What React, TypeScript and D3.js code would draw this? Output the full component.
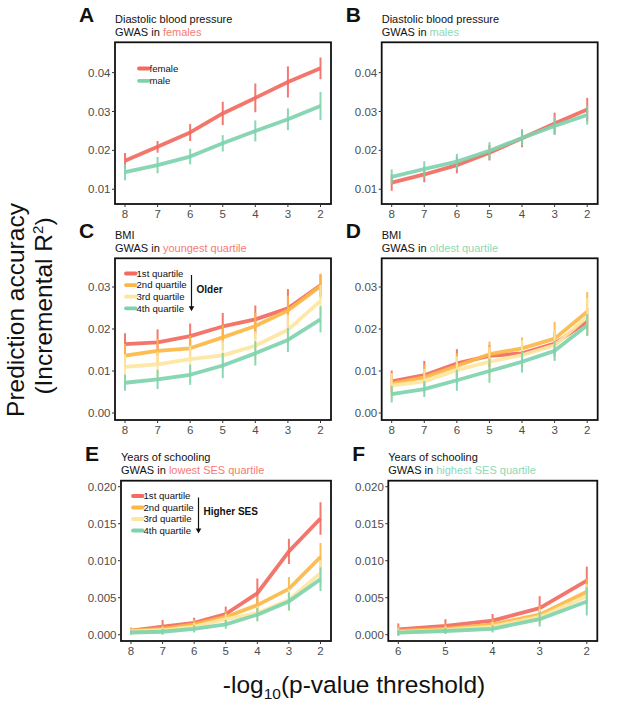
import React from "react";
import * as d3 from "d3";

// ---------- data ----------
const thresholds = [8, 7, 6, 5, 4, 3, 2];
const thresholdsF = [6, 5, 4, 3, 2];

// A: Diastolic BP, GWAS in females
const femaleA = [0.0173, 0.0209, 0.0246, 0.0295, 0.0335, 0.0376, 0.0411];
const femaleAErr = [0.002, 0.0015, 0.0022, 0.003, 0.0037, 0.004, 0.0028];
const maleA = [0.0144, 0.0162, 0.0184, 0.0218, 0.025, 0.028, 0.0314];
const maleAErr = [0.0021, 0.0021, 0.002, 0.0021, 0.0027, 0.0028, 0.0036];

// B: Diastolic BP, GWAS in males
const femaleB = [0.0117, 0.0138, 0.0162, 0.0194, 0.0231, 0.0269, 0.0305];
const femaleBErr = [0.0021, 0.002, 0.0021, 0.002, 0.0023, 0.0028, 0.003];
const maleB = [0.0132, 0.0152, 0.0171, 0.0199, 0.0232, 0.0263, 0.0291];
const maleBErr = [0.0019, 0.002, 0.002, 0.0022, 0.002, 0.0023, 0.0025];

// C: BMI, GWAS in youngest quartile
const q1C = [0.0164, 0.0168, 0.0183, 0.0206, 0.0223, 0.0249, 0.0304];
const q1CErr = [0.0026, 0.0031, 0.003, 0.0032, 0.0033, 0.0046, 0.0026];
const q2C = [0.01365, 0.0148, 0.0154, 0.018, 0.0207, 0.0244, 0.0302];
const q2CErr = [0.0028, 0.003, 0.003, 0.003, 0.0032, 0.0035, 0.003];
const q3C = [0.011, 0.0116, 0.0128, 0.0137, 0.016, 0.0198, 0.0267];
const q3CErr = [0.003, 0.003, 0.0032, 0.0033, 0.0034, 0.0036, 0.0038];
const q4C = [0.0072, 0.008, 0.0091, 0.0113, 0.0142, 0.0174, 0.0223];
const q4CErr = [0.0019, 0.0023, 0.0024, 0.003, 0.0029, 0.0029, 0.0031];

// D: BMI, GWAS in oldest quartile
const q1D = [0.0075, 0.009, 0.0118, 0.0136, 0.0142, 0.0165, 0.0218];
const q1DErr = [0.0026, 0.0034, 0.0034, 0.0026, 0.0028, 0.003, 0.0032];
const q2D = [0.007, 0.0085, 0.0112, 0.014, 0.0154, 0.0177, 0.0241];
const q2DErr = [0.0025, 0.003, 0.003, 0.003, 0.0026, 0.004, 0.0047];
const q3D = [0.0065, 0.0075, 0.0102, 0.0122, 0.0138, 0.0161, 0.0229];
const q3DErr = [0.003, 0.003, 0.0033, 0.0035, 0.0035, 0.0035, 0.0045];
const q4D = [0.0045, 0.0057, 0.0078, 0.01, 0.0122, 0.0148, 0.0209];
const q4DErr = [0.002, 0.0019, 0.0025, 0.0028, 0.0026, 0.0024, 0.0026];

// E: Years of schooling, GWAS in lowest SES quartile
const q1E = [0.00054, 0.00108, 0.0016, 0.0028, 0.0056, 0.01126, 0.0157];
const q1EErr = [0.0004, 0.0009, 0.0007, 0.001, 0.002, 0.0017, 0.0022];
const q2E = [0.00054, 0.0008, 0.0014, 0.0024, 0.004, 0.0062, 0.0105];
const q2EErr = [0.0004, 0.0005, 0.0006, 0.0008, 0.0011, 0.0016, 0.0019];
const q3E = [0.00045, 0.0006, 0.0011, 0.0021, 0.0029, 0.0047, 0.0083];
const q3EErr = [0.0003, 0.0004, 0.0005, 0.0007, 0.001, 0.0015, 0.0018];
const q4E = [0.0003, 0.0004, 0.0008, 0.0014, 0.0027, 0.0045, 0.0075];
const q4EErr = [0.0003, 0.0004, 0.0005, 0.0006, 0.0009, 0.0012, 0.0016];

// F: Years of schooling, GWAS in highest SES quartile
const q1F = [0.00072, 0.0012, 0.0019, 0.0036, 0.0073];
const q1FErr = [0.0008, 0.0009, 0.0009, 0.0016, 0.0019];
const q2F = [0.0005, 0.0008, 0.0014, 0.0027, 0.0058];
const q2FErr = [0.0006, 0.0006, 0.0007, 0.0012, 0.0017];
const q3F = [0.00036, 0.00063, 0.0011, 0.0024, 0.0052];
const q3FErr = [0.0005, 0.0005, 0.0006, 0.0011, 0.0016];
const q4F = [0.00027, 0.0005, 0.0008, 0.0021, 0.0045];
const q4FErr = [0.0004, 0.0004, 0.0005, 0.001, 0.0019];

const ticksBP = [0.01, 0.02, 0.03, 0.04];
const ticksBMI = [0.0, 0.01, 0.02, 0.03];
const ticksEdu = [0.0, 0.005, 0.01, 0.015, 0.02];

const sexLabels = ["female", "male"];
const quartileLabels = ["1st quartile", "2nd quartile", "3rd quartile", "4th quartile"];

// ---------- styles ----------
const RED = "#F26A61";
const GREEN = "#7ED3AC";
const ORANGE = "#FBB845";
const YELLOW = "#FDE6A0";
const RED_TXT = "#F47C76";
const GREEN_TXT = "#8ED8B6";
const FONT = "'Liberation Sans', Arial, Helvetica, sans-serif";

type Series = { values: number[]; err: number[]; color: string };

type PanelDef = {
  letter: string;
  title: string;
  subPrefix: string;
  subHighlight: string;
  subColor: string;
  left: number;
  right: number;
  top: number;
  bottom: number;
  xs: number[];
  yDomain: [number, number];
  yTicks: number[];
  yFmt: string;
  series: Series[];
  legend?: { labels: string[]; colors: string[]; x: number; y: number; rowH: number; arrowText?: string };
};

const panels: PanelDef[] = [
  {
    letter: "A", title: "Diastolic blood pressure", subPrefix: "GWAS in ", subHighlight: "females", subColor: RED_TXT,
    left: 115, right: 331, top: 42.3, bottom: 204, xs: thresholds,
    yDomain: [0.0062, 0.0478], yTicks: ticksBP, yFmt: ".2f",
    series: [
      { values: femaleA, err: femaleAErr, color: RED },
      { values: maleA, err: maleAErr, color: GREEN },
    ],
    legend: { labels: sexLabels, colors: [RED, GREEN], x: 139, y: 68.5, rowH: 12.3 },
  },
  {
    letter: "B", title: "Diastolic blood pressure", subPrefix: "GWAS in ", subHighlight: "males", subColor: GREEN_TXT,
    left: 381.7, right: 597.7, top: 42.3, bottom: 204, xs: thresholds,
    yDomain: [0.0062, 0.0478], yTicks: ticksBP, yFmt: ".2f",
    series: [
      { values: femaleB, err: femaleBErr, color: RED },
      { values: maleB, err: maleBErr, color: GREEN },
    ],
  },
  {
    letter: "C", title: "BMI", subPrefix: "GWAS in ", subHighlight: "youngest quartile", subColor: RED_TXT,
    left: 115, right: 331, top: 258.3, bottom: 420, xs: thresholds,
    yDomain: [-0.00167, 0.03683], yTicks: ticksBMI, yFmt: ".2f",
    series: [
      { values: q1C, err: q1CErr, color: RED },
      { values: q2C, err: q2CErr, color: ORANGE },
      { values: q3C, err: q3CErr, color: YELLOW },
      { values: q4C, err: q4CErr, color: GREEN },
    ],
    legend: { labels: quartileLabels, colors: [RED, ORANGE, YELLOW, GREEN], x: 126, y: 273.5, rowH: 11.6, arrowText: "Older" },
  },
  {
    letter: "D", title: "BMI", subPrefix: "GWAS in ", subHighlight: "oldest quartile", subColor: GREEN_TXT,
    left: 381.7, right: 597.7, top: 258.3, bottom: 420, xs: thresholds,
    yDomain: [-0.00167, 0.03683], yTicks: ticksBMI, yFmt: ".2f",
    series: [
      { values: q1D, err: q1DErr, color: RED },
      { values: q2D, err: q2DErr, color: ORANGE },
      { values: q3D, err: q3DErr, color: YELLOW },
      { values: q4D, err: q4DErr, color: GREEN },
    ],
  },
  {
    letter: "E", title: "Years of schooling", subPrefix: "GWAS in ", subHighlight: "lowest SES quartile", subColor: RED_TXT,
    left: 121, right: 331, top: 480.7, bottom: 641, xs: thresholds,
    yDomain: [-0.00085, 0.02081], yTicks: ticksEdu, yFmt: ".3f",
    series: [
      { values: q1E, err: q1EErr, color: RED },
      { values: q2E, err: q2EErr, color: ORANGE },
      { values: q3E, err: q3EErr, color: YELLOW },
      { values: q4E, err: q4EErr, color: GREEN },
    ],
    legend: { labels: quartileLabels, colors: [RED, ORANGE, YELLOW, GREEN], x: 133, y: 496, rowH: 11.5, arrowText: "Higher SES" },
  },
  {
    letter: "F", title: "Years of schooling", subPrefix: "GWAS in ", subHighlight: "highest SES quartile", subColor: GREEN_TXT,
    left: 388.3, right: 597.3, top: 480.7, bottom: 641, xs: thresholdsF,
    yDomain: [-0.00085, 0.02081], yTicks: ticksEdu, yFmt: ".3f",
    series: [
      { values: q1F, err: q1FErr, color: RED },
      { values: q2F, err: q2FErr, color: ORANGE },
      { values: q3F, err: q3FErr, color: YELLOW },
      { values: q4F, err: q4FErr, color: GREEN },
    ],
  },
];

function Panel({ p }: { p: PanelDef }) {
  const pad = 10;
  const x = d3
    .scaleLinear()
    .domain([d3.max(p.xs)!, d3.min(p.xs)!])
    .range([p.left + pad, p.right - pad - 0.5]);
  const y = d3.scaleLinear().domain(p.yDomain).range([p.bottom, p.top]);
  const fmt = d3.format(p.yFmt);
  const line = d3
    .line<number>()
    .x((_, i) => x(p.xs[i]))
    .y((d) => y(d));
  const lg = p.legend;
  return (
    <g>
      {/* letter & titles */}
      <text x={p.left - 36} y={p.top - 20} fontSize={21} fontWeight="bold" fontFamily={FONT} fill="#111">
        {p.letter}
      </text>
      <text x={p.left} y={p.top - 19.5} fontSize={11} fontFamily={FONT} fill="#111">
        {p.title}
      </text>
      <text x={p.left} y={p.top - 6.5} fontSize={11} fontFamily={FONT} fill="#111">
        {p.subPrefix}
        <tspan fill={p.subColor}>{p.subHighlight}</tspan>
      </text>

      {/* series */}
      {p.series.map((s, si) => (
        <g key={si}>
          {s.values.map((v, i) => (
            <line
              key={i}
              x1={x(p.xs[i])}
              x2={x(p.xs[i])}
              y1={y(v - s.err[i])}
              y2={y(v + s.err[i])}
              stroke={s.color}
              strokeWidth={2}
              opacity={0.9}
            />
          ))}
          <path d={line(s.values)!} fill="none" stroke={s.color} strokeWidth={3.8} strokeLinejoin="round" opacity={0.92} />
        </g>
      ))}

      {/* legend */}
      {lg && (
        <g>
          {lg.labels.map((lab, i) => (
            <g key={lab}>
              <line
                x1={lg.x}
                x2={lg.x + 9.5}
                y1={lg.y + i * lg.rowH}
                y2={lg.y + i * lg.rowH}
                stroke={lg.colors[i]}
                strokeWidth={3.8}
                strokeLinecap="round"
              />
              <text x={lg.x + 10.5} y={lg.y + i * lg.rowH} dy="0.35em" fontSize={9.6} fontFamily={FONT} fill="#111">
                {lab}
              </text>
            </g>
          ))}
          {lg.arrowText && (
            <g>
              <line
                x1={lg.x + 65.5}
                x2={lg.x + 65.5}
                y1={lg.y + 1.5}
                y2={lg.y + 3 * lg.rowH + 1}
                stroke="#111"
                strokeWidth={1.2}
              />
              <path
                d={`M${lg.x + 62.7},${lg.y + 3 * lg.rowH - 2} L${lg.x + 68.3},${lg.y + 3 * lg.rowH - 2} L${lg.x + 65.5},${lg.y + 3 * lg.rowH + 3} Z`}
                fill="#111"
              />
              <text
                x={lg.x + 70.5}
                y={lg.y + 1.35 * lg.rowH}
                dy="0.35em"
                fontSize={10}
                fontWeight="bold"
                fontFamily={FONT}
                fill="#111"
              >
                {lg.arrowText}
              </text>
            </g>
          )}
        </g>
      )}

      {/* frame */}
      <rect
        x={p.left}
        y={p.top}
        width={p.right - p.left}
        height={p.bottom - p.top}
        fill="none"
        stroke="#111"
        strokeWidth={1.8}
      />

      {/* y axis */}
      {p.yTicks.map((t) => (
        <g key={t}>
          <line x1={p.left - 3} x2={p.left} y1={y(t)} y2={y(t)} stroke="#333" strokeWidth={1} />
          <text
            x={p.left - 4.5}
            y={y(t)}
            dy="0.35em"
            textAnchor="end"
            fontSize={11.5}
            fontFamily={FONT}
            fill="#4d4d4d"
          >
            {fmt(t)}
          </text>
        </g>
      ))}

      {/* x axis */}
      {p.xs.map((t) => (
        <g key={t}>
          <line x1={x(t)} x2={x(t)} y1={p.bottom} y2={p.bottom + 3} stroke="#333" strokeWidth={1} />
          <text x={x(t)} y={p.bottom + 13.5} textAnchor="middle" fontSize={11.5} fontFamily={FONT} fill="#4d4d4d">
            {t}
          </text>
        </g>
      ))}
    </g>
  );
}

export default function App() {
  return (
    <svg
      width={617}
      height={708}
      viewBox="0 0 617 708"
      style={{ position: "absolute", left: 0, top: 0, background: "#fff" }}
    >
      <rect x={0} y={0} width={617} height={708} fill="#fff" />
      {panels.map((p) => (
        <Panel key={p.letter} p={p} />
      ))}

      {/* y-axis title */}
      <g transform="translate(0,310) rotate(-90)">
        <text x={0} y={24} textAnchor="middle" fontSize={24.5} fontFamily={FONT} fill="#111">
          Prediction accuracy
        </text>
        <text x={4} y={52} textAnchor="middle" fontSize={24.5} fontFamily={FONT} fill="#111">
          (Incremental R
          <tspan fontSize={15} dy={-9}>2</tspan>
          <tspan dy={9}>)</tspan>
        </text>
      </g>

      {/* x-axis title */}
      <text x={354} y={693} textAnchor="middle" fontSize={24.5} fontFamily={FONT} fill="#111">
        -log
        <tspan fontSize={15.5} dy={6}>10</tspan>
        <tspan dy={-6}>(p-value threshold)</tspan>
      </text>
    </svg>
  );
}
